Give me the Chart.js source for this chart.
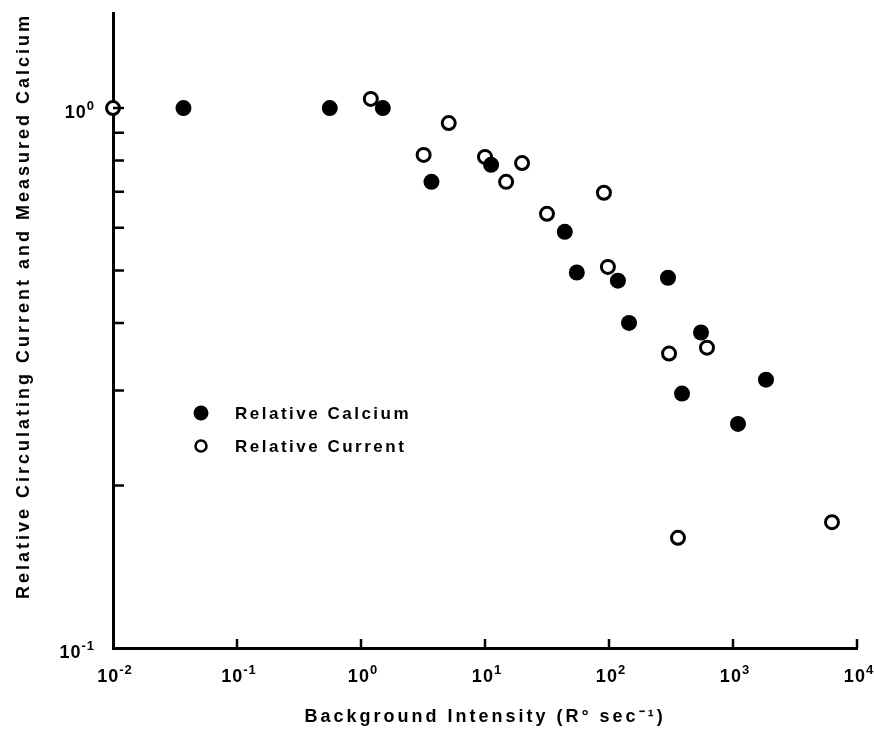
<!DOCTYPE html>
<html>
<head>
<meta charset="utf-8">
<script src="https://cdn.jsdelivr.net/npm/chart.js@4.4.0/dist/chart.umd.min.js"></script>
<style>
  html, body { margin: 0; padding: 0; background: #fff; }
  #wrap { width: 874px; height: 730px; }
</style>
</head>
<body>
<div id="wrap"><canvas id="grafico" width="874" height="730"></canvas></div>
<script>
// Relative Calcium (filled circles)
const calcioX = [0.037, 0.56, 1.5, 3.7, 11.2, 44, 55, 118, 145, 299, 388, 552, 1097, 1845]
const calcioY = [1.0, 1.0, 1.0, 0.73, 0.785, 0.59, 0.496, 0.479, 0.40, 0.485, 0.296, 0.384, 0.26, 0.314]

// Relative Current (open circles)
const corrienteX = [0.01, 1.2, 3.2, 5.1, 10, 14.8, 19.9, 31.6, 91, 98, 305, 360, 617, 6285]
const corrienteY = [1.0, 1.04, 0.819, 0.938, 0.812, 0.73, 0.791, 0.637, 0.697, 0.508, 0.351, 0.160, 0.36, 0.171]

// Ticks
const xTicks = [1e-2, 1e-1, 1e0, 1e1, 1e2, 1e3, 1e4]
const yTicks = [0.1, 0.2, 0.3, 0.4, 0.5, 0.6, 0.7, 0.8, 0.9, 1.0]

const fuente = "'Liberation Sans', Arial, sans-serif"

function exponente(v) {
    let e = Math.round(Math.log10(v))
    if (Math.abs(Math.log10(v) - e) > 1e-6) return null
    return String(e)
}

function puntos(xs, ys) {
    return xs.map((x, i) => ({ x: x, y: ys[i] }))
}

// "10" with a raised exponent
function potencia(ctx, exp, x, y, alinear) {
    ctx.letterSpacing = '1px'
    ctx.font = 'bold 18px ' + fuente
    let wBase = ctx.measureText('10').width
    ctx.font = 'bold 13px ' + fuente
    let wExp = ctx.measureText(exp).width
    let total = wBase + wExp
    let x0 = alinear == 'right' ? x - total : x - total / 2
    ctx.textAlign = 'left'
    ctx.textBaseline = 'alphabetic'
    ctx.font = 'bold 18px ' + fuente
    ctx.fillText('10', x0, y)
    ctx.font = 'bold 13px ' + fuente
    ctx.fillText(exp, x0 + wBase, y - 8)
}

// letter spacing for the old-style lettering (axis titles)
const espaciado = {
    id: 'espaciado',
    beforeLayout(chart) { chart.ctx.letterSpacing = '3px' },
    beforeDraw(chart) { chart.ctx.letterSpacing = '3px' }
}

// inward tick marks and power-of-ten labels
const marcas = {
    id: 'marcas',
    afterDraw(chart) {
        const ctx = chart.ctx
        const a = chart.chartArea
        const sx = chart.scales.x
        const sy = chart.scales.y
        ctx.save()
        ctx.strokeStyle = '#000'
        ctx.fillStyle = '#000'
        ctx.lineWidth = 2.5
        ctx.beginPath()
        for (let t of sy.ticks) {
            if (t.value <= 0.1) continue
            let py = sy.getPixelForValue(t.value)
            ctx.moveTo(a.left, py)
            ctx.lineTo(a.left + 11, py)
        }
        for (let t of sx.ticks) {
            if (t.value <= 0.01) continue
            let px = sx.getPixelForValue(t.value)
            ctx.moveTo(px, a.bottom)
            ctx.lineTo(px, a.bottom - 9)
        }
        ctx.stroke()

        for (let t of sx.ticks) {
            let e = exponente(t.value)
            if (e === null) continue
            potencia(ctx, e, sx.getPixelForValue(t.value) + 2, a.bottom + 34, 'center')
        }
        for (let t of sy.ticks) {
            let e = exponente(t.value)
            if (e === null) continue
            potencia(ctx, e, a.left - 18, sy.getPixelForValue(t.value) + 10, 'right')
        }
        ctx.restore()
    }
}

// legend inside the plot
const leyenda = {
    id: 'leyenda',
    afterDraw(chart) {
        const ctx = chart.ctx
        const a = chart.chartArea
        const filas = [
            { texto: chart.data.datasets[0].label, relleno: true },
            { texto: chart.data.datasets[1].label, relleno: false }
        ]
        ctx.save()
        ctx.letterSpacing = '2.5px'
        ctx.font = 'bold 17px ' + fuente
        ctx.textBaseline = 'middle'
        ctx.textAlign = 'left'
        ctx.fillStyle = '#000'
        filas.forEach((f, i) => {
            let cy = a.top + 400 + i * 33
            let cx = a.left + 88
            ctx.beginPath()
            ctx.lineWidth = 2.5
            ctx.strokeStyle = '#000'
            if (f.relleno) {
                ctx.arc(cx, cy, 7.5, 0, Math.PI * 2)
                ctx.fill()
            } else {
                ctx.arc(cx, cy, 5.5, 0, Math.PI * 2)
                ctx.stroke()
            }
            ctx.fillText(f.texto, a.left + 122, cy + 1)
        })
        ctx.restore()
    }
}

const ctx = document.getElementById('grafico').getContext('2d')
const grafico = new Chart(ctx, {
    type: 'scatter',
    data: {
        datasets: [{
            label: 'Relative Calcium',
            data: puntos(calcioX, calcioY),
            pointStyle: 'circle',
            pointRadius: 8,
            pointHoverRadius: 8,
            pointBackgroundColor: '#000',
            pointBorderColor: '#000',
            pointBorderWidth: 0,
            clip: false
        }, {
            label: 'Relative Current',
            data: puntos(corrienteX, corrienteY),
            pointStyle: 'circle',
            pointRadius: 6.5,
            pointHoverRadius: 6.5,
            pointBackgroundColor: '#fff',
            pointBorderColor: '#000',
            pointBorderWidth: 3,
            clip: false
        }]
    },
    options: {
        responsive: false,
        animation: false,
        devicePixelRatio: 1,
        layout: { padding: { top: 13, right: 17, left: 0, bottom: 0 } },
        plugins: {
            legend: { display: false },
            tooltip: { enabled: false }
        },
        scales: {
            x: {
                type: 'logarithmic',
                min: 0.01,
                max: 10000,
                afterBuildTicks: s => { s.ticks = xTicks.map(v => ({ value: v })) },
                afterFit: s => { s.height = 82 },
                grid: { display: false, drawTicks: false },
                border: { display: true, color: '#000', width: 3 },
                ticks: { display: false },
                title: {
                    display: true,
                    text: 'Background Intensity (R\u00B0 sec\u207B\u00B9)',
                    color: '#000',
                    padding: { top: 0, bottom: 2 },
                    font: { family: fuente, size: 18, weight: 'bold' }
                }
            },
            y: {
                type: 'logarithmic',
                min: 0.1,
                max: 1.5,
                afterBuildTicks: s => { s.ticks = yTicks.map(v => ({ value: v })) },
                afterFit: s => { s.width = 113 },
                grid: { display: false, drawTicks: false },
                border: { display: true, color: '#000', width: 3 },
                ticks: { display: false },
                title: {
                    display: true,
                    text: 'Relative Circulating Current and Measured Calcium',
                    align: 'end',
                    color: '#000',
                    padding: { top: 13, bottom: 0 },
                    font: { family: fuente, size: 18, weight: 'bold' }
                }
            }
        }
    },
    plugins: [espaciado, marcas, leyenda]
})
</script>
</body>
</html>
